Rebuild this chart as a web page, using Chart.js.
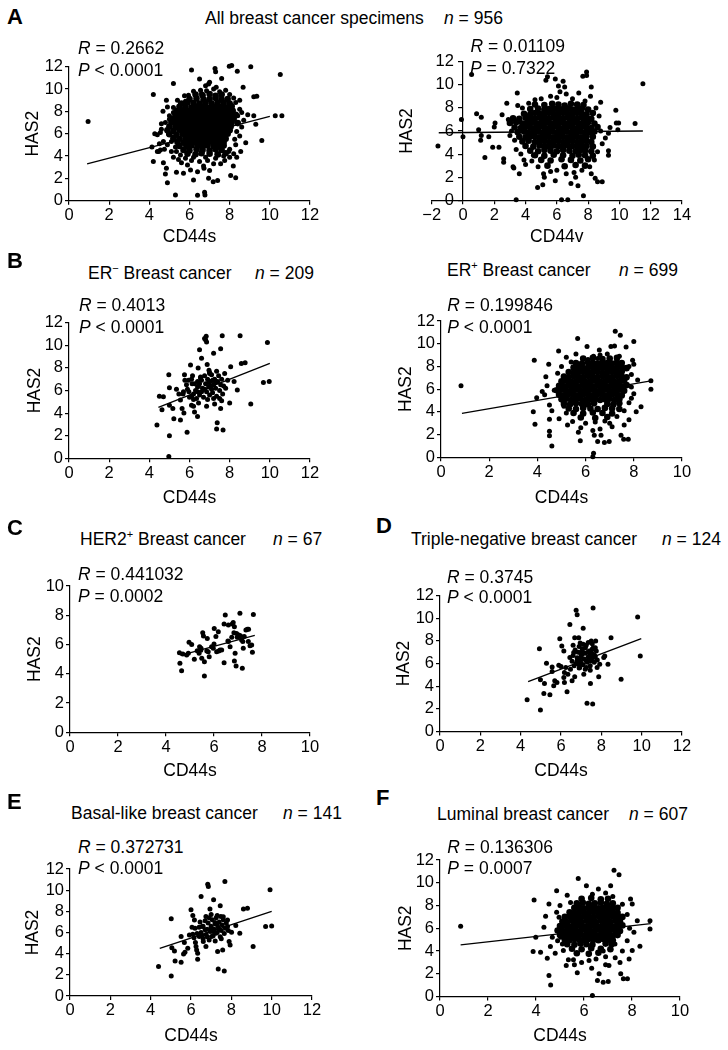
<!DOCTYPE html>
<html>
<head>
<meta charset="utf-8">
<script src="https://cdn.jsdelivr.net/npm/chart.js@4.4.1/dist/chart.umd.min.js"></script>
<style>
  body { margin: 0; background: #fff; width: 728px; height: 1050px; position: relative; overflow: hidden;
         font-family: 'Liberation Sans', Arial, sans-serif; color: #000; }
  canvas { position: absolute; }
  .t { position: absolute; white-space: pre; line-height: 1; font-size: 17.5px; }
  .lab { font-weight: bold; font-size: 22px; }
  sup { font-size: 11px; vertical-align: 7px; line-height: 0; }
</style>
</head>
<body>
<script>
// ===============================
// DATA (x = CD44s / CD44v, y = HAS2)
// ===============================

// A left: all specimens, CD44s
const allCd44sOut = [[0.95,7.1],[4.2,9.5],[4.85,9.0],[5.2,10.5],[6.1,11.7],[6.5,10.9],[7.27,11.85],[7.3,11.55],[7.68,12.3],[7.98,12.05],[8.1,12.1],[8.38,11.6],[9.05,12.0],[10.52,11.3],[7.6,10.95],[7.0,10.6],[6.95,10.45],[8.67,10.15],[9.2,9.3],[9.35,9.35],[8.5,9.0],[8.9,7.7],[9.2,7.6],[9.3,6.85],[10.27,7.6],[10.6,7.6],[9.6,5.4],[8.8,5.2],[8.55,4.4],[8.0,3.9],[8.35,3.9],[8.18,3.1],[8.05,2.25],[8.3,2.05],[7.75,3.6],[7.55,3.3],[7.2,3.3],[7.4,1.8],[7.18,1.7],[6.95,2.0],[6.7,3.1],[6.72,2.9],[6.77,0.5],[6.75,0.75],[6.4,0.48],[5.3,0.5],[6.2,1.85],[5.7,2.45],[6.05,2.75],[5.35,2.55],[4.9,1.6],[4.8,2.4],[4.85,2.9],[4.2,3.5],[4.47,4.4],[4.55,4.55],[4.7,3.4],[4.13,4.8],[4.27,6.0],[4.55,6.1],[4.68,8.0],[4.9,8.4],[5.2,8.35],[5.35,8.1],[5.6,8.1],[5.8,8.9],[5.75,9.4],[6.35,9.1],[6.55,9.9],[6.85,9.85],[7.33,10.15],[7.9,9.0],
  [4.4,5.9],[4.6,6.4],[4.7,5.3],[4.8,7.0],[4.9,5.0],[4.5,5.1],[5.0,7.6],[4.75,4.6],[5.1,4.4],[5.2,3.9],[5.3,4.8],[4.4,4.4],[4.6,6.9],[5.45,3.7],[5.6,3.4],[5.8,3.8],[6.1,3.6],[6.5,3.5],[6.9,3.6],[7.3,3.8],[7.7,4.0],[8.0,4.6],[8.3,5.0],[8.5,5.8],[8.6,6.6],[8.4,7.6],[8.5,8.2],[8.3,8.8],[8.0,9.5],[7.8,9.9],[7.2,10.0],[6.8,10.3],[6.2,9.8],[5.4,9.0],[5.2,7.9],[8.7,7.2],[8.2,4.2],[5.9,3.2],[6.4,2.6],[7.0,2.7],
  [5.0,7.3],[4.95,6.0],[5.1,5.3],[5.35,4.4],[5.55,4.1],[6.2,3.9],[6.8,3.9],[7.45,4.1],[7.95,4.4],[8.25,5.5],[8.35,6.2],[8.6,7.9],[8.2,9.2],[7.5,9.75],[6.6,9.6],[5.95,9.45],[5.55,8.7]];
const allCd44sCore = [[6.3,9.5],[6.65,9.45],[7.0,9.55],[7.3,9.4],[7.6,9.5],
  [6.0,9.1],[6.35,9.15],[6.7,9.05],[7.0,9.1],[7.3,9.2],[7.6,9.05],[7.9,9.1],
  [5.6,8.7],[5.9,8.8],[6.2,8.75],[6.5,8.7],[6.8,8.8],[7.1,8.7],[7.4,8.8],[7.7,8.75],[8.0,8.7],
  [5.5,8.4],[5.8,8.45],[6.1,8.35],[6.35,8.4],[6.6,8.45],[6.85,8.35],[7.1,8.4],[7.35,8.45],[7.6,8.4],[7.85,8.35],[8.1,8.45],
  [5.4,8.0],[5.65,8.1],[5.9,8.05],[6.15,8.0],[6.4,8.1],[6.65,8.05],[6.9,8.0],[7.15,8.1],[7.4,8.05],[7.65,8.0],[7.9,8.1],[8.15,8.05],
  [5.3,7.7],[5.55,7.65],[5.8,7.75],[6.05,7.7],[6.3,7.65],[6.55,7.75],[6.8,7.7],[7.05,7.65],[7.3,7.75],[7.55,7.7],[7.8,7.65],[8.05,7.75],[8.3,7.7],
  [5.2,7.35],[5.45,7.3],[5.7,7.4],[5.95,7.35],[6.2,7.3],[6.45,7.4],[6.7,7.35],[6.95,7.3],[7.2,7.4],[7.45,7.35],[7.7,7.3],[7.95,7.4],[8.2,7.35],
  [5.1,7.0],[5.35,6.95],[5.6,7.05],[5.85,7.0],[6.1,6.95],[6.35,7.05],[6.6,7.0],[6.85,6.95],[7.1,7.05],[7.35,7.0],[7.6,6.95],[7.85,7.05],[8.1,7.0],[8.4,6.95],
  [5.0,6.65],[5.3,6.6],[5.55,6.7],[5.8,6.65],[6.05,6.6],[6.3,6.7],[6.55,6.65],[6.8,6.6],[7.05,6.7],[7.3,6.65],[7.55,6.6],[7.8,6.7],[8.05,6.65],
  [4.9,6.3],[5.2,6.25],[5.5,6.35],[5.75,6.3],[6.0,6.25],[6.25,6.35],[6.5,6.3],[6.75,6.25],[7.0,6.35],[7.25,6.3],[7.5,6.25],[7.75,6.35],[8.0,6.3],
  [5.0,5.95],[5.35,5.9],[5.65,6.0],[5.9,5.95],[6.15,5.9],[6.4,6.0],[6.65,5.95],[6.9,5.9],[7.15,6.0],[7.4,5.95],[7.65,5.9],[7.9,6.0],
  [5.2,5.6],[5.5,5.55],[5.8,5.65],[6.05,5.6],[6.3,5.55],[6.55,5.65],[6.8,5.6],[7.05,5.55],[7.3,5.65],[7.55,5.6],[7.8,5.55],
  [5.4,5.25],[5.7,5.2],[5.95,5.3],[6.2,5.25],[6.45,5.2],[6.7,5.3],[6.95,5.25],[7.2,5.2],[7.45,5.3],[7.7,5.25],
  [5.5,4.9],[5.85,4.85],[6.1,4.95],[6.4,4.9],[6.65,4.85],[6.9,4.95],[7.2,4.9],[7.45,4.85],[7.7,4.95],
  [5.7,4.55],[6.0,4.5],[6.35,4.6],[6.65,4.55],[7.0,4.5],[7.3,4.6],[7.6,4.55],
  [5.9,4.2],[6.3,4.15],[6.6,4.25],[7.0,4.2],[7.4,4.15],[7.8,4.25]];
const allCd44sFit = [[0.9,3.3],[10.0,7.55]];

// A right: all specimens, CD44v
const allCd44vOut = [[-1.6,4.7],[0.55,10.9],[-0.1,7.0],[0.0,5.5],[0.87,7.5],[1.17,7.2],[1.0,6.1],[1.17,5.6],[1.13,5.2],[1.4,3.7],[1.9,4.6],[2.3,4.6],[1.65,5.5],[2.0,6.35],[2.05,6.7],[2.5,7.4],[2.8,8.4],[2.6,3.6],[2.6,3.3],[3.2,2.9],[3.25,2.8],[3.6,2.3],[3.47,9.3],[3.5,8.2],[4.0,3.1],[3.4,0.05],[4.6,8.7],[4.77,1.1],[5.1,1.35],[5.15,2.3],[5.2,2.0],[5.3,10.4],[5.4,10.7],[5.9,10.5],[6.1,9.9],[6.4,10.3],[6.5,9.8],[6.3,0.05],[6.7,0.05],[6.9,1.45],[7.35,1.25],[7.66,10.75],[7.9,11.1],[7.9,10.8],[8.2,9.8],[8.15,9.0],[8.8,8.5],[7.7,0.4],[8.45,1.9],[8.6,1.6],[8.9,1.6],[8.2,2.3],[9.3,4.3],[9.3,3.9],[9.3,5.8],[9.77,7.8],[9.8,6.7],[9.95,6.7],[9.9,6.1],[11.0,6.65],[11.5,10.1],
  [2.9,7.0],[3.1,6.0],[3.3,5.2],[3.4,4.4],[3.0,5.6],[3.7,4.0],[3.8,8.0],[4.2,8.4],[4.4,3.4],[4.8,2.9],[5.0,8.8],[5.6,9.0],[6.0,8.9],[6.6,9.2],[7.0,8.8],[7.4,9.3],[7.8,8.6],[8.5,8.0],[8.7,7.3],[8.8,6.0],[8.9,4.9],[8.6,4.2],[8.4,3.5],[8.1,2.9],[7.6,2.6],[7.1,2.4],[6.6,2.3],[6.0,2.6],[5.6,2.5],[4.5,3.9],[3.6,6.8],[9.1,5.4],[9.4,6.3],[7.2,2.0],[5.9,1.7],[6.2,9.4],[3.9,3.5]];
const allCd44vCore = [[4.6,8.3],[5.2,8.25],[5.7,8.35],[6.1,8.3],[6.5,8.2],[6.9,8.35],[7.3,8.3],[7.7,8.25],
  [4.3,7.9],[4.8,7.95],[5.2,7.85],[5.5,7.9],[5.8,7.95],[6.1,7.85],[6.4,7.9],[6.7,7.95],[7.0,7.85],[7.3,7.9],[7.6,7.95],[8.0,7.85],
  [3.9,7.5],[4.3,7.45],[4.6,7.55],[4.9,7.5],[5.2,7.45],[5.5,7.55],[5.8,7.5],[6.1,7.45],[6.4,7.55],[6.7,7.5],[7.0,7.45],[7.3,7.55],[7.6,7.5],[7.9,7.45],[8.3,7.55],
  [3.2,7.1],[3.6,7.05],[4.0,7.15],[4.3,7.1],[4.6,7.05],[4.9,7.15],[5.2,7.1],[5.5,7.05],[5.8,7.15],[6.1,7.1],[6.4,7.05],[6.7,7.15],[7.0,7.1],[7.3,7.05],[7.6,7.15],[7.9,7.1],[8.2,7.05],
  [3.0,6.7],[3.4,6.75],[3.8,6.65],[4.1,6.7],[4.4,6.75],[4.7,6.65],[5.0,6.7],[5.3,6.75],[5.6,6.65],[5.9,6.7],[6.2,6.75],[6.5,6.65],[6.8,6.7],[7.1,6.75],[7.4,6.65],[7.7,6.7],[8.0,6.75],[8.4,6.65],
  [3.3,6.3],[3.7,6.25],[4.0,6.35],[4.3,6.3],[4.6,6.25],[4.9,6.35],[5.2,6.3],[5.5,6.25],[5.8,6.35],[6.1,6.3],[6.4,6.25],[6.7,6.35],[7.0,6.3],[7.3,6.25],[7.6,6.35],[7.9,6.3],[8.2,6.25],[8.6,6.35],
  [3.5,5.9],[3.9,5.95],[4.2,5.85],[4.5,5.9],[4.8,5.95],[5.1,5.85],[5.4,5.9],[5.7,5.95],[6.0,5.85],[6.3,5.9],[6.6,5.95],[6.9,5.85],[7.2,5.9],[7.5,5.95],[7.8,5.85],[8.1,5.9],[8.4,5.95],
  [3.6,5.5],[4.0,5.45],[4.3,5.55],[4.6,5.5],[4.9,5.45],[5.2,5.55],[5.5,5.5],[5.8,5.45],[6.1,5.55],[6.4,5.5],[6.7,5.45],[7.0,5.55],[7.3,5.5],[7.6,5.45],[7.9,5.55],[8.3,5.5],
  [3.8,5.1],[4.2,5.15],[4.6,5.05],[4.9,5.1],[5.2,5.15],[5.5,5.05],[5.8,5.1],[6.1,5.15],[6.4,5.05],[6.7,5.1],[7.0,5.15],[7.3,5.05],[7.6,5.1],[7.9,5.15],[8.2,5.05],
  [4.0,4.7],[4.5,4.65],[4.9,4.75],[5.2,4.7],[5.5,4.65],[5.8,4.75],[6.1,4.7],[6.4,4.65],[6.7,4.75],[7.0,4.7],[7.3,4.65],[7.6,4.75],[7.9,4.7],[8.3,4.65],
  [4.3,4.3],[4.8,4.25],[5.2,4.35],[5.6,4.3],[6.0,4.25],[6.4,4.35],[6.8,4.3],[7.2,4.25],[7.5,4.35],[7.8,4.3],[8.2,4.25],
  [4.6,3.9],[5.2,3.85],[5.8,3.95],[6.4,3.9],[7.0,3.85],[7.4,3.95],[7.8,3.9],[8.3,3.85],
  [5.0,3.5],[5.6,3.45],[6.3,3.55],[6.9,3.5],[7.5,3.45],[8.0,3.55],
  [5.4,3.0],[6.5,2.95],[7.2,3.05],[7.8,3.0]];
const allCd44vFit = [[-1.55,5.85],[11.5,6.0]];

// B left: ER- breast cancer
const erNegPts = [[4.38,2.95],[4.5,5.5],[4.7,5.45],[4.63,4.3],[4.97,7.4],[5.0,6.25],[5.0,4.7],[5.0,2.0],[4.97,0.15],[5.17,4.4],[5.22,3.5],[5.35,6.1],[5.47,5.7],[5.55,5.15],[5.55,3.4],[5.63,4.4],[5.72,4.0],[5.68,5.7],[5.75,7.4],[5.77,6.9],[5.88,2.3],[5.9,6.1],[5.97,5.9],[6.05,8.25],[6.1,7.0],[6.13,6.6],[6.1,5.5],[6.2,5.2],[6.2,4.6],[6.25,4.1],[6.4,3.7],[6.4,6.3],[6.4,5.9],[6.43,8.0],[6.5,9.6],[6.6,8.85],[6.55,7.2],[6.75,10.6],[6.8,10.5],[6.83,10.8],[6.85,10.3],[6.88,8.3],[6.97,7.8],[7.0,7.5],[7.2,9.3],[7.38,3.15],[7.35,2.6],[7.63,10.85],[7.55,9.7],[7.67,2.5],[7.55,4.4],[8.05,8.1],[8.0,4.9],[8.22,6.8],[8.38,6.05],[8.52,10.85],[8.58,8.4],[8.77,8.45],[9.05,4.8],[9.68,6.7],[9.88,10.25],[9.97,6.8],
  [6.3,6.0],[6.45,6.4],[6.5,5.6],[6.6,6.9],[6.65,6.2],[6.7,5.4],[6.75,7.3],[6.8,6.6],[6.85,5.9],[6.9,7.0],[6.95,6.3],[7.0,5.6],[7.05,6.8],[7.1,6.1],[7.1,7.4],[7.15,5.8],[7.2,6.5],[7.25,7.0],[7.3,6.2],[7.35,5.5],[7.4,6.8],[7.45,7.3],[7.5,6.0],[7.55,6.5],[7.6,7.0],[7.65,5.7],[7.7,6.4],[7.75,7.5],[6.55,7.1],[6.4,6.8],[6.35,5.3],[6.6,5.9],[6.9,5.2],[7.0,7.6],[7.2,5.3],[7.35,7.7],[7.5,5.3],[6.75,6.1],[7.05,6.4],[7.3,6.7],[6.95,6.7],[7.15,6.9],[6.5,6.6],[6.25,6.6],[6.2,5.7],[6.15,7.3],[5.95,6.9],[6.0,5.4],[5.85,6.5],[5.7,5.9],[7.8,6.2],[7.9,6.9],[7.6,5.1],[7.25,4.8],[6.85,4.6],[6.45,4.9],[6.1,4.7]];
const erNegFit = [[4.45,4.5],[10.0,8.4]];

// B right: ER+ breast cancer
const erPosOut = [[0.83,6.3],[3.87,8.55],[3.83,4.0],[3.9,2.9],[3.97,5.25],[4.2,5.8],[4.3,5.5],[4.35,7.1],[4.4,6.3],[4.47,8.2],[4.5,3.35],[4.5,2.3],[4.5,1.9],[4.6,1.0],[4.84,7.4],[4.88,9.35],[5.05,6.65],[5.2,3.9],[5.25,2.85],[5.4,8.4],[5.57,7.8],[5.67,10.45],[5.7,2.2],[5.78,1.45],[5.46,3.15],[6.06,9.75],[6.1,8.6],[6.33,8.9],[6.33,0.35],[6.3,0.05],[6.3,2.35],[6.36,1.95],[6.5,1.4],[6.57,9.45],[6.6,9.0],[6.64,1.95],[6.78,1.3],[6.98,1.4],[7.05,9.75],[7.2,9.8],[7.23,11.1],[7.44,10.75],[7.47,1.95],[7.58,1.6],[7.77,1.6],[7.68,9.7],[8.0,10.2],[7.95,8.55],[8.0,8.2],[8.0,5.6],[8.1,4.0],[8.16,6.8],[8.3,4.45],[8.71,6.75],[8.71,6.0],[7.8,3.3],[7.6,2.85],
  [4.5,4.6],[4.7,5.9],[4.6,4.1],[4.9,3.4],[5.0,8.0],[5.2,8.8],[5.6,9.1],[6.0,3.0],[6.4,3.1],[6.8,3.2],[7.1,2.7],[7.3,3.6],[7.6,4.1],[7.8,4.8],[7.9,6.2],[7.9,7.3],[7.8,8.0],[7.4,8.9],[6.9,9.1],[6.5,8.7],[5.8,2.6],[5.1,4.5],[6.6,2.5],[7.0,3.0],[7.9,5.2]];
const erPosCore = [[5.9,8.7],[6.3,8.75],[6.7,8.65],[7.0,8.7],[7.3,8.75],
  [5.6,8.3],[5.85,8.25],[6.1,8.35],[6.3,8.3],[6.5,8.25],[6.7,8.35],[6.9,8.3],[7.1,8.25],[7.3,8.35],[7.5,8.3],
  [5.5,7.9],[5.7,7.95],[5.9,7.85],[6.1,7.9],[6.3,7.95],[6.5,7.85],[6.7,7.9],[6.9,7.95],[7.1,7.85],[7.3,7.9],[7.5,7.95],[7.7,7.85],
  [5.3,7.5],[5.5,7.45],[5.7,7.55],[5.9,7.5],[6.1,7.45],[6.3,7.55],[6.5,7.5],[6.7,7.45],[6.9,7.55],[7.1,7.5],[7.3,7.45],[7.5,7.55],
  [5.1,7.1],[5.3,7.05],[5.5,7.15],[5.7,7.1],[5.9,7.05],[6.1,7.15],[6.3,7.1],[6.5,7.05],[6.7,7.15],[6.9,7.1],[7.1,7.05],[7.3,7.15],[7.5,7.1],[7.7,7.05],
  [5.0,6.7],[5.2,6.75],[5.4,6.65],[5.6,6.7],[5.8,6.75],[6.0,6.65],[6.2,6.7],[6.4,6.75],[6.6,6.65],[6.8,6.7],[7.0,6.75],[7.2,6.65],[7.4,6.7],[7.6,6.75],
  [4.9,6.3],[5.1,6.25],[5.3,6.35],[5.5,6.3],[5.7,6.25],[5.9,6.35],[6.1,6.3],[6.3,6.25],[6.5,6.35],[6.7,6.3],[6.9,6.25],[7.1,6.35],[7.3,6.3],[7.5,6.25],[7.7,6.35],
  [4.8,5.9],[5.0,5.95],[5.2,5.85],[5.4,5.9],[5.6,5.95],[5.8,5.85],[6.0,5.9],[6.2,5.95],[6.4,5.85],[6.6,5.9],[6.8,5.95],[7.0,5.85],[7.2,5.9],[7.4,5.95],[7.6,5.85],
  [4.9,5.5],[5.1,5.45],[5.3,5.55],[5.5,5.5],[5.7,5.45],[5.9,5.55],[6.1,5.5],[6.3,5.45],[6.5,5.55],[6.7,5.5],[6.9,5.45],[7.1,5.55],[7.3,5.5],[7.5,5.45],
  [5.0,5.1],[5.2,5.15],[5.4,5.05],[5.6,5.1],[5.8,5.15],[6.0,5.05],[6.2,5.1],[6.4,5.15],[6.6,5.05],[6.8,5.1],[7.0,5.15],[7.2,5.05],[7.4,5.1],
  [5.1,4.7],[5.35,4.65],[5.6,4.75],[5.85,4.7],[6.1,4.65],[6.35,4.75],[6.9,4.7],[7.15,4.65],[7.4,4.75],
  [5.3,4.3],[5.6,4.25],[5.9,4.35],[6.2,4.3],[6.5,4.25],[6.8,4.35],[7.1,4.3],[7.4,4.25],
  [5.5,3.9],[5.9,3.85],[6.3,3.95],[6.7,3.9],[7.1,3.85],
  [5.8,3.5],[6.4,3.45],[6.9,3.55]];
const erPosFit = [[0.87,3.87],[8.71,6.72]];

// C: HER2+ breast cancer
const her2Pts = [[4.56,5.44],[4.58,4.72],[4.65,4.21],[4.7,5.35],[4.86,5.28],[4.96,6.15],[5.07,6.0],[4.93,5.4],[5.18,5.0],[5.3,5.58],[5.38,5.4],[5.4,5.85],[5.46,5.74],[5.53,6.8],[5.56,6.58],[5.49,5.06],[5.6,4.83],[5.6,3.85],[5.72,6.42],[5.76,5.5],[5.8,5.17],[5.9,5.85],[5.97,5.74],[6.01,7.1],[6.08,6.54],[6.18,6.88],[6.11,5.51],[6.25,5.63],[6.32,5.63],[6.42,4.76],[6.47,8.02],[6.42,7.4],[6.6,7.33],[6.58,6.24],[6.67,5.85],[6.76,7.4],[6.8,7.5],[6.85,7.22],[6.85,4.87],[6.92,4.53],[6.94,6.76],[7.03,6.65],[6.97,6.49],[7.08,8.13],[7.15,6.31],[7.2,6.2],[7.18,4.37],[7.22,5.74],[7.33,7.0],[7.39,7.04],[7.44,7.04],[7.43,6.2],[7.5,5.92],[7.57,5.97],[7.6,5.47],[7.64,8.06],[6.88,5.4],[6.74,6.49],[6.6,6.2],[7.04,6.54],[7.26,6.54],[6.83,6.81],[6.0,6.04],[5.45,5.6],[6.2,5.55],[7.1,6.6],[5.7,5.55]];
const her2Fit = [[4.6,5.25],[7.7,6.62]];

// D: triple-negative breast cancer
const tripleNegPts = [[4.32,2.8],[4.93,7.3],[4.98,4.56],[4.98,1.9],[5.18,4.24],[5.15,3.36],[5.28,6.02],[5.45,3.25],[5.56,5.7],[5.56,5.3],[5.64,4.04],[5.69,4.47],[5.8,4.33],[5.89,5.85],[6.0,5.73],[5.94,8.19],[6.04,7.54],[6.14,7.1],[6.17,5.2],[6.14,4.77],[6.17,4.33],[6.24,5.64],[6.3,3.5],[6.34,5.06],[6.44,6.52],[6.44,9.44],[6.47,5.5],[6.55,4.47],[6.63,6.96],[6.68,8.27],[6.68,4.82],[6.75,10.7],[6.8,10.3],[6.88,8.27],[6.88,5.94],[6.93,5.64],[6.96,6.96],[7.05,6.81],[7.0,6.52],[7.1,9.1],[7.1,7.69],[7.21,7.4],[7.13,5.06],[7.26,5.64],[7.29,2.49],[7.34,7.02],[7.43,6.87],[7.46,6.23],[7.5,6.52],[7.5,7.98],[7.54,7.25],[7.57,2.43],[7.46,4.24],[7.59,10.9],[7.62,6.52],[7.67,6.67],[7.72,7.98],[7.7,7.4],[7.79,5.64],[7.87,4.82],[7.92,5.94],[8.12,6.52],[8.17,6.67],[8.33,5.94],[8.48,8.27],[8.98,4.62],[9.8,10.1],[9.93,6.67],
  [6.55,6.2],[6.6,6.7],[6.7,7.2],[6.75,6.0],[6.8,6.5],[6.85,7.0],[6.9,7.5],[6.95,6.2],[7.0,6.75],[7.05,7.3],[7.1,5.9],[7.15,6.4],[7.2,6.9],[7.25,7.6],[7.3,6.1],[7.35,6.6],[7.4,7.1],[7.45,5.8],[7.5,6.35],[7.55,6.85],[7.6,7.4],[7.65,6.1],[7.7,6.6],[7.75,7.1],[7.8,6.3],[6.65,5.8],[6.9,5.6],[7.2,5.5],[7.45,5.4],[6.6,7.6],[6.95,7.8],[7.35,7.85],[7.55,7.75],[7.0,6.0],[7.25,6.25],[7.5,6.95],[6.8,6.25],[7.1,7.0],[7.4,6.45],[7.65,6.75]];
const tripleNegFit = [[4.37,4.4],[9.98,8.2]];

// E: basal-like breast cancer
const basalPts = [[4.39,2.78],[5.02,7.29],[5.05,4.57],[5.02,1.89],[5.18,4.26],[5.21,3.31],[5.51,5.62],[5.51,3.19],[5.63,3.97],[5.67,5.05],[5.7,4.13],[5.84,4.51],[5.92,5.77],[6.09,5.84],[6.0,8.14],[6.09,7.6],[6.17,7.19],[6.22,5.05],[6.25,4.67],[6.28,4.35],[6.33,4.04],[6.33,3.47],[6.41,5.62],[6.5,9.4],[6.55,6.56],[6.61,5.14],[6.74,7.51],[6.74,4.67],[6.83,10.57],[6.86,10.35],[6.94,8.23],[6.96,6.25],[7.02,5.62],[7.12,9.09],[7.19,6.94],[7.24,5.93],[7.32,4.2],[7.35,2.56],[7.45,8.52],[7.48,7.51],[7.57,4.35],[7.65,2.37],[7.68,10.82],[7.81,7.19],[7.81,6.56],[7.89,5.14],[7.94,4.83],[8.01,6.03],[8.22,6.66],[8.42,5.93],[8.6,8.23],[8.8,8.3],[9.08,4.67],[9.7,6.56],[10.0,6.62],[9.92,10.03],
  [6.5,6.0],[6.6,6.6],[6.7,7.1],[6.75,5.8],[6.8,6.3],[6.85,6.9],[6.9,7.4],[6.95,6.1],[7.0,6.6],[7.05,7.2],[7.1,5.7],[7.15,6.3],[7.2,6.8],[7.25,7.4],[7.3,6.0],[7.35,6.5],[7.4,7.0],[7.45,5.6],[7.5,6.2],[7.55,6.7],[7.6,7.2],[7.65,5.9],[7.7,6.4],[6.6,5.4],[6.9,5.3],[7.2,5.2],[6.4,6.5],[6.3,5.9],[6.2,6.4],[6.45,7.0],[7.0,7.7],[7.3,7.6],[7.6,7.5],[6.8,5.6],[7.1,6.1],[7.4,6.3],[7.0,6.35],[6.7,6.25],[7.3,6.75],[7.5,5.4],[6.55,5.7],[6.05,6.5],[6.15,5.5],[7.75,6.9],[7.85,6.2]];
const basalFit = [[4.45,4.5],[10.0,8.0]];

// F: luminal breast cancer
const luminalOut = [[0.86,6.17],[3.92,8.48],[3.88,3.95],[4.19,3.9],[3.99,5.2],[4.33,6.08],[4.4,7.05],[4.54,8.13],[4.47,3.36],[4.54,1.84],[4.61,1.02],[4.86,9.3],[4.86,7.4],[4.68,5.2],[4.96,6.96],[5.03,5.2],[5.1,4.62],[5.14,4.04],[5.26,2.72],[5.35,3.22],[5.44,8.27],[5.56,3.22],[5.58,7.78],[5.76,10.38],[5.72,2.08],[6.1,9.74],[6.21,3.16],[6.32,2.49],[6.35,0.09],[6.35,9.0],[6.56,1.4],[6.6,9.44],[6.63,1.99],[6.8,1.26],[7.01,1.32],[6.9,2.8],[7.04,2.72],[7.11,9.74],[7.25,11.1],[7.46,10.7],[7.53,1.99],[7.64,1.55],[7.81,1.55],[7.88,3.3],[7.94,8.57],[8.01,8.13],[8.01,4.04],[8.08,5.64],[8.22,6.67],[8.33,4.42],[8.75,6.67],[8.75,5.94],[7.29,4.62],
  [4.6,4.4],[4.8,3.8],[5.0,8.0],[5.3,8.9],[5.9,3.0],[6.5,3.3],[6.9,3.5],[7.3,3.4],[7.6,4.0],[7.8,4.9],[7.9,6.0],[7.8,7.2],[7.6,8.1],[7.2,8.8],[6.9,9.1],[5.2,6.2],[5.6,2.8],[6.8,4.0],[7.5,3.0],[4.9,4.9]];
const luminalCore = [[5.9,8.6],[6.3,8.65],[6.7,8.55],[7.0,8.6],
  [5.7,8.2],[5.95,8.25],[6.2,8.15],[6.45,8.2],[6.7,8.25],[6.95,8.15],[7.2,8.2],
  [5.6,7.8],[5.8,7.85],[6.0,7.75],[6.2,7.8],[6.4,7.85],[6.6,7.75],[6.8,7.8],[7.0,7.85],[7.2,7.75],[7.4,7.8],
  [5.4,7.4],[5.6,7.35],[5.8,7.45],[6.0,7.4],[6.2,7.35],[6.4,7.45],[6.6,7.4],[6.8,7.35],[7.0,7.45],[7.2,7.4],[7.4,7.35],
  [5.2,7.0],[5.4,7.05],[5.6,6.95],[5.8,7.0],[6.0,7.05],[6.2,6.95],[6.4,7.0],[6.6,7.05],[6.8,6.95],[7.0,7.0],[7.2,7.05],[7.4,6.95],[7.6,7.0],
  [5.1,6.6],[5.3,6.55],[5.5,6.65],[5.7,6.6],[5.9,6.55],[6.1,6.65],[6.3,6.6],[6.5,6.55],[6.7,6.65],[6.9,6.6],[7.1,6.55],[7.3,6.65],[7.5,6.6],
  [5.0,6.2],[5.2,6.25],[5.4,6.15],[5.6,6.2],[5.8,6.25],[6.0,6.15],[6.2,6.2],[6.4,6.25],[6.6,6.15],[6.8,6.2],[7.0,6.25],[7.2,6.15],[7.4,6.2],[7.6,6.25],
  [4.9,5.8],[5.1,5.75],[5.3,5.85],[5.5,5.8],[5.7,5.75],[5.9,5.85],[6.1,5.8],[6.3,5.75],[6.5,5.85],[6.7,5.8],[6.9,5.75],[7.1,5.85],[7.3,5.8],[7.5,5.75],
  [5.0,5.4],[5.2,5.45],[5.4,5.35],[5.6,5.4],[5.8,5.45],[6.0,5.35],[6.2,5.4],[6.4,5.45],[6.6,5.35],[6.8,5.4],[7.0,5.45],[7.2,5.35],[7.4,5.4],
  [5.2,5.0],[5.4,4.95],[5.6,5.05],[5.8,5.0],[6.0,4.95],[6.2,5.05],[6.4,5.0],[6.6,4.95],[6.8,5.05],[7.0,5.0],[7.2,4.95],
  [5.3,4.6],[5.6,4.55],[5.85,4.65],[6.1,4.6],[6.35,4.55],[6.9,4.65],[7.15,4.6],
  [5.5,4.2],[5.9,4.15],[6.3,4.25],[6.7,4.2],[7.1,4.15],
  [5.7,3.8],[6.2,3.75],[6.6,3.85]];
const luminalFit = [[0.86,4.53],[8.78,6.4]];

// ===============================
// LAYOUT (page pixels of each plot area)
// ===============================
const FONT = "'Liberation Sans', Arial, sans-serif";
const panels = [
  { pts: allCd44sOut, core: allCd44sCore, fit: allCd44sFit, xLabel: 'CD44s', xMin: 0, xMax: 12, yMax: 12,
    L: 69, T: 66.7, R: 310, B: 200.7, cl: 0, yt: 33, xt: 237 },
  { pts: allCd44vOut, core: allCd44vCore, fit: allCd44vFit, xLabel: 'CD44v', xMin: -2, xMax: 14, yMax: 12,
    L: 431.7, T: 61.7, R: 682, B: 200.3, cl: 364, yt: 407, xt: 237, yAtZero: true },
  { pts: erNegPts, core: [], fit: erNegFit, xLabel: 'CD44s', xMin: 0, xMax: 12, yMax: 12,
    L: 69, T: 322.7, R: 310, B: 458.3, cl: 0, yt: 35, xt: 498 },
  { pts: erPosOut, core: erPosCore, fit: erPosFit, xLabel: 'CD44s', xMin: 0, xMax: 10, yMax: 12,
    L: 441, T: 321, R: 682, B: 457.3, cl: 364, yt: 405.7, xt: 498 },
  { pts: her2Pts, core: [], fit: her2Fit, xLabel: 'CD44s', xMin: 0, xMax: 10, yMax: 10,
    L: 70, T: 586, R: 310, B: 732.3, cl: 0, yt: 35, xt: 771 },
  { pts: tripleNegPts, core: [], fit: tripleNegFit, xLabel: 'CD44s', xMin: 0, xMax: 12, yMax: 12,
    L: 440, T: 595.5, R: 682, B: 731.5, cl: 364, yt: 404, xt: 771 },
  { pts: basalPts, core: [], fit: basalFit, xLabel: 'CD44s', xMin: 0, xMax: 12, yMax: 12,
    L: 70, T: 869, R: 312, B: 996, cl: 0, yt: 33, xt: 1036 },
  { pts: luminalOut, core: luminalCore, fit: luminalFit, xLabel: 'CD44s', xMin: 0, xMax: 10, yMax: 12,
    L: 440, T: 860, R: 680, B: 996.5, cl: 364, yt: 405.7, xt: 1036 }
];

const notes = [
  ['A', 7, 16.5, 'lab'], ['B', 7, 260.5, 'lab'], ['C', 7, 528, 'lab'],
  ['D', 376, 526, 'lab'], ['E', 7, 801.5, 'lab'], ['F', 376, 797.5, 'lab'],
  ['All breast cancer specimens', 205, 19], ['<i>n</i> = 956', 444, 19],
  ['ER<sup>\u2212</sup> Breast cancer', 88, 273.3], ['<i>n</i> = 209', 255, 273.3],
  ['ER<sup>+</sup> Breast cancer', 447, 271], ['<i>n</i> = 699', 619, 271],
  ['HER2<sup>+</sup> Breast cancer', 80, 540], ['<i>n</i> = 67', 273, 540],
  ['Triple-negative breast cancer', 411, 539.3], ['<i>n</i> = 124', 662, 539.3],
  ['Basal-like breast cancer', 71, 814], ['<i>n</i> = 141', 283, 814],
  ['Luminal breast cancer', 437, 814.3], ['<i>n</i> = 607', 629, 814.3],
  ['<i>R</i> = 0.2662', 78, 49], ['<i>P</i> &lt; 0.0001', 78, 71],
  ['<i>R</i> = 0.01109', 470.5, 46.7], ['<i>P</i> = 0.7322', 470, 68.3],
  ['<i>R</i> = 0.4013', 79, 305.7], ['<i>P</i> &lt; 0.0001', 79, 327.3],
  ['<i>R</i> = 0.199846', 447.3, 305.7], ['<i>P</i> &lt; 0.0001', 447.3, 327.3],
  ['<i>R</i> = 0.441032', 78, 575], ['<i>P</i> = 0.0002', 78, 596.7],
  ['<i>R</i> = 0.3745', 447, 577.3], ['<i>P</i> &lt; 0.0001', 447, 597.3],
  ['<i>R</i> = 0.372731', 78, 847.3], ['<i>P</i> &lt; 0.0001', 78, 869],
  ['<i>R</i> = 0.136306', 447.3, 847.3], ['<i>P</i> = 0.0007', 447.3, 869]
];

// ===============================
// BUILD CHARTS
// ===============================
const tickFont = { family: FONT, size: 16.5 };
const titleFont = { family: FONT, size: 17.5, lineHeight: 1.2 };
const LH = 17.5 * 1.2;

function axisLook() {
  return {
    grid: { display: true, drawOnChartArea: false, drawTicks: true, tickLength: 4, color: '#000', lineWidth: 1.2 },
    border: { display: true, color: '#000', width: 1.2 }
  };
}

function toXY(list) {
  return list.map(d => ({ x: d[0], y: d[1] }));
}

function makePanel(p) {
  const c = document.createElement('canvas');
  const ct = Math.floor(p.T - 12);
  const padT = p.T - ct;
  const padR = 16;
  const w = Math.ceil(p.R + padR - p.cl);
  const h = Math.ceil(p.xt + LH / 2 + 3 - ct);
  const padL = p.L - p.cl;
  const padB = h - padT - (p.B - p.T);
  c.width = w; c.height = h;
  c.style.left = p.cl + 'px'; c.style.top = ct + 'px';
  c.style.width = w + 'px'; c.style.height = h + 'px';
  document.body.appendChild(c);

  const xTitlePad = h - LH / 2 - (p.xt - ct);
  const yTitlePad = (p.yt - p.cl) - LH / 2;

  const scales = {
    x: Object.assign(axisLook(), {
      type: 'linear', min: p.xMin, max: p.xMax,
      ticks: { stepSize: 2, font: tickFont, color: '#000', padding: 1, maxRotation: 0, autoSkip: false,
               callback: v => String(v).replace('-', '\u2212') },
      title: { display: true, text: p.xLabel, font: titleFont, color: '#000', padding: { top: 0, bottom: xTitlePad } },
      afterFit: s => { s.height = padB; }
    }),
    y: Object.assign(axisLook(), {
      type: 'linear', min: 0, max: p.yMax,
      ticks: { stepSize: 2, font: tickFont, color: '#000', padding: 2, autoSkip: false },
      title: { display: !p.yAtZero, text: 'HAS2', font: titleFont, color: '#000', padding: { top: yTitlePad, bottom: 0 } },
      afterFit: s => { s.width = padL; }
    })
  };
  if (p.yAtZero) {
    scales.y.position = { x: 0 };
    scales.y.ticks.callback = v => v + '  ';
    scales.yt = {
      type: 'linear', position: 'left', display: true,
      ticks: { display: false }, grid: { display: false }, border: { display: false },
      title: { display: true, text: 'HAS2', font: titleFont, color: '#000', padding: { top: yTitlePad, bottom: 0 } },
      afterFit: s => { s.width = padL; }
    };
  }

  // datasets are painted last-to-first, so the fit line (last) sits under the dots
  new Chart(c, {
    type: 'scatter',
    data: {
      datasets: [
        { data: toXY(p.pts), pointRadius: 2.5, pointBackgroundColor: '#000', pointBorderWidth: 0,
          pointHoverRadius: 2.5, clip: false },
        { data: toXY(p.core), pointRadius: 3.3, pointBackgroundColor: '#000', pointBorderWidth: 0,
          pointHoverRadius: 3.3, clip: false },
        { data: toXY(p.fit), showLine: true, pointRadius: 0, borderColor: '#000', borderWidth: 1.3, clip: false }
      ]
    },
    options: {
      responsive: false, animation: false, devicePixelRatio: 1,
      layout: { padding: { top: padT, right: padR, left: 0, bottom: 0 } },
      plugins: { legend: { display: false }, tooltip: { enabled: false } },
      scales: scales
    }
  });
}

panels.forEach(makePanel);

notes.forEach(n => {
  const d = document.createElement('div');
  d.className = 't' + (n[3] ? ' ' + n[3] : '');
  const size = n[3] ? 22 : 17.5;
  d.innerHTML = n[0];
  d.style.left = n[1] + 'px';
  d.style.top = (n[2] - size * 0.49) + 'px';
  document.body.appendChild(d);
});
</script>
</body>
</html>
